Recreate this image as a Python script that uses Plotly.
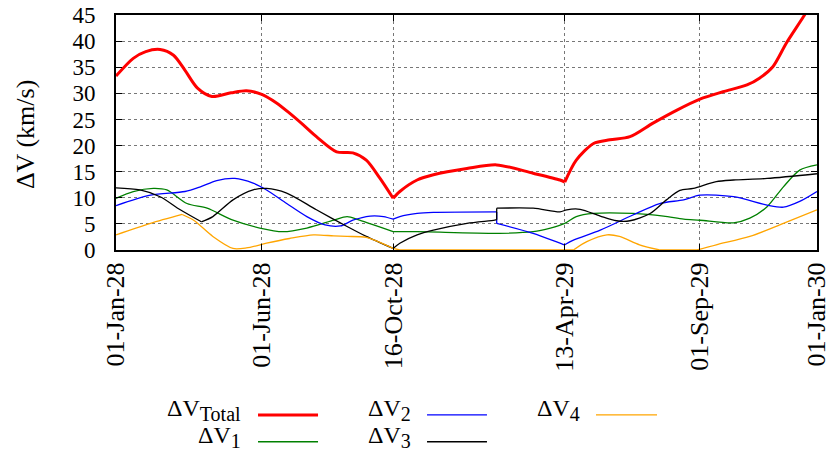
import pandas as pd
import plotly.graph_objects as go

START = "2028-01-01"

# Day offsets from 01-Jan-28 and values (km/s)
total_days = [0, 18, 31, 46, 60, 72, 85, 100, 120, 136, 152, 167, 181, 195, 209, 230, 247, 261, 275, 289,
              296, 314, 331, 366, 397, 435, 463, 468, 480, 498, 515, 536, 560, 585, 609, 633, 658, 671,
              685, 699, 717, 731]
total_vals = [33.3, 36.7, 38.0, 38.4, 37.3, 34.4, 31.0, 29.4, 30.1, 30.5, 29.8, 28.2, 26.2, 24.0, 21.7,
              18.8, 18.6, 17.2, 13.8, 9.9, 11.2, 13.4, 14.4, 15.6, 16.3, 14.7, 13.4, 13.0, 17.2, 20.4,
              21.1, 21.7, 24.3, 26.8, 28.9, 30.3, 31.6, 32.9, 35.1, 39.6, 44.7, 49.0]

dv1_days = [0, 18, 39, 53, 74, 95, 122, 150, 174, 199, 227, 241, 254, 289, 314, 400, 435, 453, 468, 480,
            498, 539, 571, 592, 609, 644, 661, 679, 696, 713, 731]
dv1_vals = [9.9, 11.2, 11.8, 11.5, 8.9, 8.0, 5.7, 4.2, 3.5, 4.2, 5.7, 6.4, 5.7, 3.5, 3.5, 3.2, 3.5, 4.2,
            5.1, 6.4, 7.0, 7.0, 6.5, 5.9, 5.7, 5.2, 6.1, 8.3, 12.1, 15.3, 16.3]

dv2_days = [0, 36, 72, 88, 105, 124, 143, 157, 178, 199, 218, 234, 247, 265, 279, 289, 296, 314, 331,
            397, 397, 435, 466, 468, 477, 505, 539, 567, 592, 609, 644, 679, 696, 713, 731]
dv2_vals = [8.5, 10.5, 11.2, 12.1, 13.3, 13.7, 12.8, 11.5, 8.9, 6.4, 4.8, 4.6, 5.7, 6.5, 6.4, 5.9, 6.4,
            7.0, 7.2, 7.3, 5.1, 3.2, 1.1, 1.0, 1.9, 3.8, 6.7, 8.9, 9.6, 10.5, 10.2, 8.6, 8.2, 9.3, 11.2]

dv3_days = [0, 25, 46, 67, 89, 101, 122, 143, 157, 178, 209, 241, 261, 289, 296, 314, 331, 366, 395,
            397, 397, 435, 463, 470, 484, 505, 522, 536, 557, 574, 588, 602, 626, 644, 679, 731]
dv3_vals = [11.9, 11.5, 10.2, 7.7, 5.4, 6.4, 9.6, 11.5, 11.8, 10.9, 7.7, 4.5, 2.6, 0.3, 1.3, 2.9, 3.8,
            5.1, 5.7, 5.8, 8.0, 8.0, 7.3, 7.7, 7.8, 6.5, 5.6, 5.6, 7.0, 9.6, 11.4, 11.8, 13.1, 13.4,
            13.7, 14.6]

dv4_days = [0, 36, 69, 81, 101, 122, 136, 157, 181, 206, 227, 241, 261, 289, 296, 477, 491, 512, 525,
            546, 567, 606, 626, 661, 696, 731]
dv4_vals = [2.9, 5.1, 6.8, 5.7, 2.6, 0.3, 0.4, 1.3, 2.2, 2.9, 2.7, 2.6, 2.4, 0.3, 0.0, 0.0, 1.6, 2.9,
            2.6, 1.0, 0.0, 0.0, 1.0, 2.6, 5.1, 7.7]

# days where a curve has a sharp corner
total_corners = [289, 468]
dv1_corners = [289]
dv2_corners = [289, 468]
dv3_corners = [89, 289]
dv4_corners = [69, 289, 296, 477, 567, 606]

tick_dates = ["2028-01-01", "2028-06-01", "2028-10-16", "2029-04-13", "2029-09-01", "2030-01-01"]
tick_text = ["01-Jan-28", "01-Jun-28", "16-Oct-28", "13-Apr-29", "01-Sep-29", "01-Jan-30"]
y_ticks = [0, 5, 10, 15, 20, 25, 30, 35, 40, 45]

legend_labels = ["ΔV<sub>Total</sub>", "ΔV<sub>1</sub>", "ΔV<sub>2</sub>", "ΔV<sub>3</sub>", "ΔV<sub>4</sub>"]


def to_dates(days):
    return pd.Timestamp(START) + pd.to_timedelta(days, unit="D")


def pieces(days, vals, corners):
    segs = []
    cur = [(days[0], vals[0])]
    for d, v in zip(days[1:], vals[1:]):
        if d == cur[-1][0]:
            segs.append(cur)
            segs.append([cur[-1], (d, v)])
            cur = [(d, v)]
        else:
            cur.append((d, v))
            if d in corners:
                segs.append(cur)
                cur = [(d, v)]
    if len(cur) > 1:
        segs.append(cur)
    return segs


series = [
    (total_days, total_vals, total_corners, "#ff0000", 3),
    (dv1_days, dv1_vals, dv1_corners, "#008000", 1.3),
    (dv2_days, dv2_vals, dv2_corners, "#0000ff", 1.3),
    (dv3_days, dv3_vals, dv3_corners, "#000000", 1.3),
    (dv4_days, dv4_vals, dv4_corners, "#ffa500", 1.3),
]

fig = go.Figure()
for (d, v, cn, c, w), name in zip(series, legend_labels):
    for seg in pieces(d, v, cn):
        sd = [p[0] for p in seg]
        sv = [p[1] for p in seg]
        fig.add_trace(go.Scatter(x=to_dates(sd), y=sv, mode="lines", name=name,
                                 line=dict(color=c, width=w, shape="spline", smoothing=0.8),
                                 showlegend=False))

FONT = "Liberation Serif"

key_layout = [  # (text right x, line x0, line x1, y) in paper coords
    (0.181, 0.2026, 0.2882, -0.702),
    (0.181, 0.2026, 0.2882, -0.816),
    (0.424, 0.4437, 0.5292, -0.702),
    (0.424, 0.4437, 0.5292, -0.816),
    (0.665, 0.6847, 0.7718, -0.702),
]
for (tx, x0, x1, ky), (d, v, cn, c, w), name in zip(key_layout, series, legend_labels):
    label = name.replace("<sub>", "<sub><span style='font-size:20px'>").replace("</sub>", "</span></sub>")
    fig.add_annotation(x=tx, y=ky + 0.02, xref="paper", yref="paper", text=label, showarrow=False,
                       xanchor="right", yanchor="middle", font=dict(family=FONT, size=24, color="black"))
    fig.add_shape(type="line", xref="paper", yref="paper", x0=x0, x1=x1, y0=ky, y1=ky,
                  line=dict(color=c, width=w))

fig.add_annotation(x=-0.1298, y=0.489, xref="paper", yref="paper", text="ΔV (km/s)", showarrow=False,
                   textangle=-90, xanchor="center", yanchor="middle",
                   font=dict(family=FONT, size=26, color="black"))

fig.update_layout(
    width=828, height=459,
    margin=dict(l=116, r=11, t=15, b=209, autoexpand=False),
    paper_bgcolor="white", plot_bgcolor="white",
    font=dict(family=FONT, color="black"),
)
fig.update_xaxes(
    type="date", range=["2028-01-01", "2030-01-01 01:00"], automargin=False,
    tickvals=tick_dates, ticktext=tick_text, tickangle=-90, ticklabeloverflow="allow",
    tickfont=dict(family=FONT, size=26, color="black"),
    showgrid=True, gridcolor="#777777", griddash="dot", gridwidth=1,
    showline=True, linecolor="black", linewidth=2, mirror="ticks",
    ticks="inside", ticklen=6, tickcolor="black", tickwidth=1,
    zeroline=False,
)
fig.update_yaxes(
    range=[0, 45], tickvals=y_ticks, automargin=False,
    tickfont=dict(family=FONT, size=23, color="black"),
    showgrid=True, gridcolor="#777777", griddash="dot", gridwidth=1,
    showline=True, linecolor="black", linewidth=2, mirror="ticks",
    ticks="inside", ticklen=6, tickcolor="black", tickwidth=1,
    zeroline=False, ticklabelstandoff=14,
)

fig.write_html("out.html")
